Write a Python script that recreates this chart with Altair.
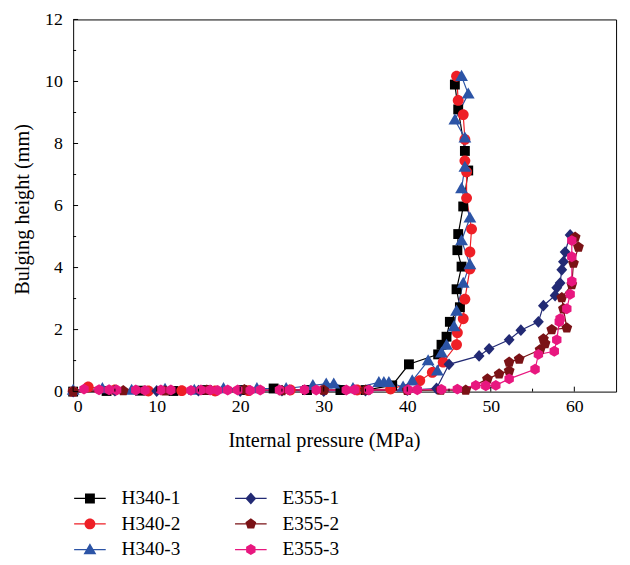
import altair as alt
import pandas as pd

# ---------------- data ----------------
series_names = ["H340-1", "H340-2", "H340-3", "E355-1", "E355-2", "E355-3"]

h1_p = [0, 4, 8, 12, 16, 20.2, 24, 28, 32, 35, 38.2, 40.2, 43.7, 44.1, 44.7, 45.1,
        46.3, 45.9, 46.5, 46.0, 46.1, 46.7, 47.3, 46.9, 46.1, 45.7]
h1_h = [0, 0.02, 0.03, 0.02, 0.05, 0.05, 0.1, 0.05, 0.05, 0.05, 0.2, 0.88, 1.2, 1.51, 1.77, 2.25,
        2.72, 3.3, 4.03, 4.56, 5.08, 5.97, 7.13, 7.76, 9.1, 9.9]

h2_p = [0, 1.8, 5, 9, 13, 17, 21, 26, 30, 34, 38, 41.5, 43.0, 44.3, 45.9, 46.0, 46.7,
        46.9, 47.5, 47.5, 47.7, 47.1, 47.1, 46.9, 46.9, 46.7, 46.1, 45.9]
h2_h = [0, 0.15, 0.05, 0.02, 0.03, 0.02, 0.03, 0.05, 0.05, 0.05, 0.08, 0.35, 0.62, 0.95, 1.51, 1.9, 2.35,
        2.98, 3.95, 4.5, 5.24, 6.24, 7.08, 7.44, 8.13, 8.93, 9.39, 10.17]

h3_p = [0, 3.5, 7, 11, 14.5, 18, 22, 25.5, 28.7, 30.3, 31.2, 33.5, 36.6, 37.2, 37.8, 39.5,
        40.6, 42.5, 43.6, 44.1, 44.7, 45.6, 45.9, 46.7, 47.5, 46.5, 47.5, 46.5, 46.9, 46.9,
        45.7, 47.3, 46.5]
h3_h = [0.05, 0.1, 0.05, 0.08, 0.05, 0.1, 0.1, 0.1, 0.2, 0.25, 0.25, 0.1, 0.3, 0.3, 0.3, 0.15,
        0.35, 1.0, 0.67, 1.25, 1.5, 2.1, 2.6, 3.5, 4.1, 4.87, 5.6, 6.55, 7.24, 8.18,
        8.76, 9.6, 10.17]

e1_p = [0, 5, 10, 15, 20, 25, 30, 35, 40, 43.5, 45.0, 48.6, 49.8, 52.2, 53.6, 55.7, 56.3,
        57.7, 57.9, 58.3, 58.5, 58.7, 58.9, 59.5]
e1_h = [0, 0.03, 0.02, 0.03, 0.02, 0.03, 0.02, 0.03, 0.05, 0.1, 0.88, 1.15, 1.38, 1.67, 1.98, 2.25, 2.77,
        3.1, 3.35, 3.5, 3.93, 4.19, 4.5, 5.05]

e2_p = [0, 6, 11, 16, 20.5, 25, 30, 35, 40, 44, 47, 49.6, 51.0, 52.2, 52.2, 53.4, 55.9,
        56.5, 56.3, 57.3, 59.1, 58.7, 58.5, 59.7, 59.9, 60.5, 60.1]
e2_h = [0, 0.03, 0.02, 0.05, 0.06, 0.03, 0.05, 0.05, 0.04, 0.05, 0.05, 0.41, 0.57, 0.67, 0.95, 1.05, 1.35,
        1.55, 1.7, 2.0, 2.05, 2.67, 3.03, 3.45, 4.14, 4.66, 4.98]

e3_p = [1.3, 3.1, 4.3, 5.2, 7.5, 8.6, 10.5, 11.7, 14.1, 15.3, 16.4, 17.3, 18.5, 19.7, 21.2,
        22.4, 24.7, 25.9, 27.7, 29.1, 32.7, 33.7, 35.4, 40.1, 41.2, 44.1, 46.0, 48.2, 49.4,
        50.6, 52.2, 55.3, 55.7, 57.6, 57.9, 58.2, 58.3, 59.1, 59.5, 59.7, 59.7, 59.7]
e3_h = [0.08, 0.06, 0.06, 0.05, 0.05, 0.04, 0.05, 0.05, 0.04, 0.05, 0.05, 0.04, 0.05, 0.05, 0.04,
        0.05, 0.05, 0.05, 0.06, 0.05, 0.05, 0.06, 0.05, 0.06, 0.06, 0.07, 0.08, 0.2, 0.19,
        0.2, 0.41, 0.72, 1.2, 1.3, 1.67, 2.25, 2.35, 2.67, 3.14, 3.56, 4.35, 4.87]

x_major = [0, 10, 20, 30, 40, 50, 60]
x_minor = [5, 15, 25, 35, 45, 55]
y_major = [0, 2, 4, 6, 8, 10, 12]
y_minor = [1, 3, 5, 7, 9, 11]

# ---------------- build tables ----------------
pairs = [(h1_p, h1_h), (h2_p, h2_h), (h3_p, h3_h), (e1_p, e1_h), (e2_p, e2_h), (e3_p, e3_h)]
rows = []
for name, (ps, hs) in zip(series_names, pairs):
    for i, (p, h) in enumerate(zip(ps, hs)):
        rows.append({"series": name, "p": p, "h": h, "idx": i})
df = pd.DataFrame(rows)

# ---------------- styling ----------------
FONT = "Liberation Serif"
W, H = 550, 377
colors = {"H340-1": "#000000", "H340-2": "#ee1f26", "H340-3": "#2c54a6",
          "E355-1": "#222a74", "E355-2": "#7a1216", "E355-3": "#e8177f"}
order = series_names


def poly(pts, s=1.0):
    return "M" + "L".join(f"{x*s:.3f},{y*s:.3f}" for x, y in pts) + "Z"


def circ(r):
    return f"M{r:.3f},0A{r:.3f},{r:.3f},0,1,1,{-r:.3f},0A{r:.3f},{r:.3f},0,1,1,{r:.3f},0Z"


marker_pts = {
    "H340-1": [(-1, -1), (1, -1), (1, 1), (-1, 1)],
    "H340-3": [(0, -1.3), (1.3, 0.95), (-1.3, 0.95)],
    "E355-1": [(0, -1.2), (1.1, 0), (0, 1.2), (-1.1, 0)],
    "E355-2": [(0, -1.15), (1.094, -0.355), (0.676, 0.93), (-0.676, 0.93), (-1.094, -0.355)],
    "E355-3": [(0, -1.1), (0.953, -0.55), (0.953, 0.55), (0, 1.1), (-0.953, 0.55), (-0.953, -0.55)],
}


def marker(name, s):
    if name == "H340-2":
        return circ(1.1 * s)
    return poly(marker_pts[name], s)


line_part = "M-1.6,-0.06H1.6V0.06H-1.6Z"
pt_shapes = [marker(n, 1.0) for n in order]
lg_shapes = [line_part + marker(n, 0.5) for n in order]

xscale = alt.Scale(domain=[0, 65], nice=False, zero=False)
yscale = alt.Scale(domain=[0, 12], nice=False, zero=False)


def cscale():
    return alt.Scale(domain=order, range=[colors[n] for n in order])


x_axis = alt.Axis(title="Internal pressure (MPa)", values=x_major, titleX=254,
                  titleY=50, titleAlign="center", titleBaseline="middle",
                  labelPadding=6)
y_axis = alt.Axis(title="Bulging height (mm)", values=y_major, titleX=-51,
                  titleY=192, titleAlign="center", titleBaseline="middle",
                  labelPadding=11)

lines = alt.Chart(df).mark_line(strokeWidth=1.2).encode(
    x=alt.X("p:Q", scale=xscale, axis=x_axis),
    y=alt.Y("h:Q", scale=yscale, axis=y_axis),
    color=alt.Color("series:N", scale=cscale(), legend=None),
    order=alt.Order("idx:Q"),
)

points = alt.Chart(df).mark_point(filled=True, size=100, opacity=1, strokeWidth=0).encode(
    x=alt.X("p:Q", scale=xscale, axis=x_axis),
    y=alt.Y("h:Q", scale=yscale, axis=y_axis),
    color=alt.Color("series:N", scale=cscale(), legend=None),
    shape=alt.Shape("series:N", scale=alt.Scale(domain=order, range=pt_shapes), legend=None),
)

leg = alt.Legend(title=None, orient="none", legendX=7, legendY=475, columns=2,
                 rowPadding=6, columnPadding=55, labelOffset=22, symbolSize=400,
                 symbolStrokeWidth=0, labelFont=FONT, labelFontSize=19.5, labelColor="#000000",
                 padding=0, symbolOpacity=1)

legend_layer = alt.Chart(df).transform_filter("false").mark_point(filled=True, opacity=1).encode(
    x=alt.X("p:Q", scale=xscale, axis=x_axis),
    y=alt.Y("h:Q", scale=yscale, axis=y_axis),
    color=alt.Color("series:N", scale=cscale(), legend=leg),
    shape=alt.Shape("series:N", scale=alt.Scale(domain=order, range=lg_shapes), legend=leg),
)

xt_major = pd.DataFrame({"p": x_major})
xt_minor = pd.DataFrame({"p": x_minor})
yt_major = pd.DataFrame({"h": y_major})
yt_minor = pd.DataFrame({"h": y_minor})


def xticks(d, length):
    return alt.Chart(d).mark_rule(color="#000000", strokeWidth=1).encode(
        x=alt.X("p:Q", scale=xscale, axis=x_axis),
        y=alt.value(H), y2=alt.value(H - length))


def yticks(d, length):
    return alt.Chart(d).mark_rule(color="#000000", strokeWidth=1).encode(
        y=alt.Y("h:Q", scale=yscale, axis=y_axis),
        x=alt.value(0), x2=alt.value(length))


chart = alt.layer(
    lines, points, legend_layer,
    xticks(xt_major, 5), xticks(xt_minor, 3), yticks(yt_major, 5), yticks(yt_minor, 3),
).resolve_scale(
    color="independent", shape="independent"
).properties(
    width=W, height=H,
    autosize=alt.AutoSizeParams(type="none"),
    padding={"left": 66, "top": 8, "right": 6, "bottom": 168},
).configure_view(
    stroke="#000000", strokeWidth=1
).configure_axis(
    domain=False, ticks=False, grid=False,
    labelFont=FONT, labelFontSize=18, labelColor="#000000",
    titleFont=FONT, titleFontSize=20.5, titleFontWeight="normal", titleColor="#000000",
)

chart.save("out.html", embed_options={"renderer": "svg", "actions": False})
